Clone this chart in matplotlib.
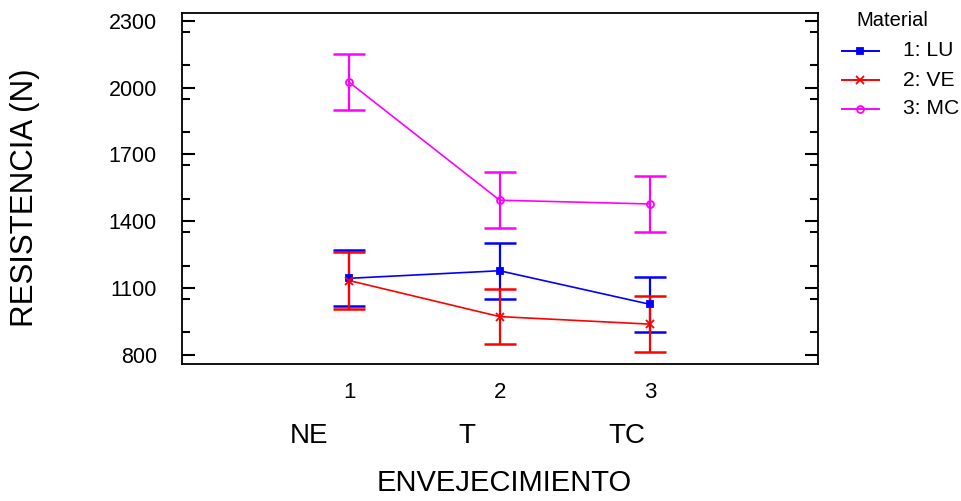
import matplotlib
matplotlib.use("Agg")
import matplotlib.pyplot as plt
from matplotlib.ticker import MultipleLocator
import numpy as np

# ---- data ----
levels = [1, 2, 3]
level_names = ["NE", "T", "TC"]
series_names = ["1: LU", "2: VE", "3: MC"]
lu_mean = [1143, 1177, 1026]
lu_half = [126, 126, 123]
ve_mean = [1133, 971, 937]
ve_half = [126, 125, 126]
mc_mean = [2024, 1494, 1477]
mc_half = [126, 126, 125]
yticks = [800, 1100, 1400, 1700, 2000, 2300]

colors = ["#0000FF", "#FF0000", "#FF00FF"]
markers = ["s", "x", "o"]

plt.rcParams['font.family'] = ['Liberation Sans', 'DejaVu Sans']

W, H = 961, 501
fig = plt.figure(figsize=(W / 100, H / 100), dpi=100)
ax = fig.add_axes([182 / W, 1 - 364 / H, (818 - 182) / W, (364 - 13) / H])

means = [lu_mean, ve_mean, mc_mean]
halves = [lu_half, ve_half, mc_half]
for m, h, c, mk, name in zip(means, halves, colors, markers, series_names):
    ax.errorbar(levels, m, yerr=h, fmt='none', ecolor=c, elinewidth=1.6,
                capsize=11.5, capthick=1.8, zorder=2)
    mfc = 'none' if mk == 'o' else c
    ax.plot(levels, m, color=c, lw=1.2, marker=mk, ms=5 if mk != 'x' else 6,
            mfc=mfc, mec=c, mew=1.3, zorder=3, label=name)

ax.set_xlim(-0.11, 4.115)
ax.set_ylim(758, 2335)
ax.set_xticks(levels)
ax.set_xticklabels([str(v) for v in levels], fontsize=16)
ax.tick_params(axis='x', length=0, pad=13)
ax.set_yticks(yticks)
ax.set_yticklabels([str(v) for v in yticks], fontsize=15.5)
ax.yaxis.set_minor_locator(MultipleLocator(150))
ax.tick_params(axis='y', which='major', direction='in', length=9.5, width=1.5,
               left=True, right=True, pad=18)
ax.tick_params(axis='y', which='minor', direction='in', length=6, width=1.5,
               left=True, right=True)
for s in ax.spines.values():
    s.set_linewidth(1.3)

# axis titles
fig.text(25 / W, 1 - 198 / H, "RESISTENCIA (N)", rotation=90, fontsize=22.5,
         ha='center', va='center')
name_px = [309, 467, 627]
for nm, px in zip(level_names, name_px):
    fig.text(px / W, 1 - 436 / H, nm, fontsize=20, ha='center', va='center')
fig.text(504 / W, 1 - 483 / H, "ENVEJECIMIENTO", fontsize=21, ha='center', va='center')

# legend
fig.text(892 / W, 1 - 21 / H, "Material", fontsize=14.5,
         ha='center', va='center')
leg_y = [51, 80, 109]
for c, mk, name, py in zip(colors, markers, series_names, leg_y):
    yy = 1 - py / H
    fig.add_artist(plt.Line2D([842 / W, 879 / W], [yy, yy], color=c, lw=1.4,
                              transform=fig.transFigure))
    mfc = 'none' if mk == 'o' else c
    fig.add_artist(plt.Line2D([860 / W], [yy], color=c, marker=mk,
                              ms=5 if mk != 'x' else 6, mfc=mfc, mec=c, mew=1.3,
                              transform=fig.transFigure))
    fig.text(903 / W, yy, name, fontsize=15.2, ha='left', va='center')

fig.savefig("out.png", dpi=100)
